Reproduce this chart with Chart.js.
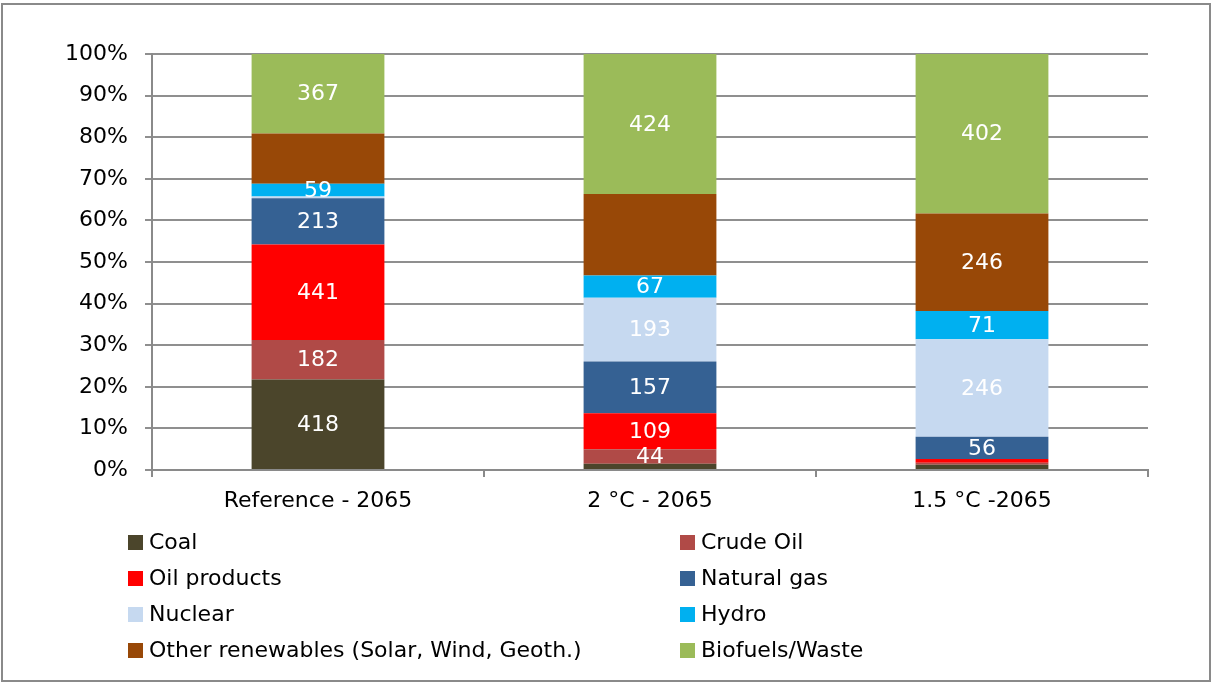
<!DOCTYPE html>
<html>
<head>
<meta charset="utf-8">
<script src="https://cdn.jsdelivr.net/npm/chart.js@4/dist/chart.umd.min.js"></script>
<style>
  html, body { margin: 0; padding: 0; background: #fff; }
  #wrap { position: relative; width: 1212px; height: 684px; }
</style>
</head>
<body>
<div id="wrap"><canvas id="c" width="1212" height="684"></canvas></div>
<script>
const categories = ["Reference - 2065", "2 °C - 2065", "1.5 °C -2065"];
const seriesNames = ["Coal", "Crude Oil", "Oil products", "Natural gas", "Nuclear", "Hydro", "Other renewables (Solar, Wind, Geoth.)", "Biofuels/Waste"];
const coal = [418, 19, 13];
const crudeOil = [182, 44, 5];
const oilProducts = [441, 109, 10];
const naturalGas = [213, 157, 56];
const nuclear = [8, 193, 246];
const hydro = [59, 67, 71];
const otherRenewables = [232, 247, 246];
const biofuels = [367, 424, 402];
// which values carry a printed label in the reference
const coalShown = [true, false, false];
const crudeOilShown = [true, true, false];
const oilProductsShown = [true, true, false];
const naturalGasShown = [true, true, true];
const nuclearShown = [false, true, true];
const hydroShown = [true, true, true];
const otherRenewablesShown = [false, false, true];
const biofuelsShown = [true, true, true];
const yTicks = ["0%", "10%", "20%", "30%", "40%", "50%", "60%", "70%", "80%", "90%", "100%"];

const colors = ["#4b452b", "#b04a47", "#ff0000", "#356193", "#c6d9f0", "#00b0f0", "#984807", "#9bbb59"];
const rawSeries = [coal, crudeOil, oilProducts, naturalGas, nuclear, hydro, otherRenewables, biofuels];
const shownSeries = [coalShown, crudeOilShown, oilProductsShown, naturalGasShown, nuclearShown, hydroShown, otherRenewablesShown, biofuelsShown];

const totals = categories.map((_, i) => rawSeries.reduce((s, a) => s + a[i], 0));
const FONT = "'DejaVu Sans', sans-serif";
const FS = 22;

const datasets = seriesNames.map((name, k) => ({
  label: name,
  raw: rawSeries[k],
  shown: shownSeries[k],
  data: rawSeries[k].map((v, i) => v / totals[i] * 100),
  backgroundColor: colors[k],
  borderWidth: 0,
  categoryPercentage: 1.0,
  barPercentage: 0.4
}));

const labelPlugin = {
  id: "segLabels",
  afterDatasetsDraw(chart) {
    const ctx = chart.ctx;
    ctx.save();
    ctx.font = FS + "px " + FONT;
    ctx.fillStyle = "#ffffff";
    ctx.textAlign = "center";
    ctx.textBaseline = "middle";
    chart.data.datasets.forEach((ds, k) => {
      const meta = chart.getDatasetMeta(k);
      meta.data.forEach((bar, i) => {
        if (!ds.shown[i]) return;
        const y = (bar.y + bar.base) / 2;
        ctx.fillText(String(ds.raw[i]), bar.x, y + 1);
      });
    });
    ctx.restore();
  }
};

const legendPlugin = {
  id: "gridLegend",
  afterDraw(chart) {
    const ctx = chart.ctx;
    ctx.save();
    ctx.font = FS + "px " + FONT;
    ctx.textBaseline = "middle";
    ctx.textAlign = "left";
    const colX = [128, 680];
    const rowY = [542, 578, 614, 650];
    chart.data.datasets.forEach((ds, k) => {
      const x = colX[k % 2];
      const y = rowY[Math.floor(k / 2)];
      ctx.fillStyle = ds.backgroundColor;
      ctx.fillRect(x, y - 7, 15, 15);
      ctx.fillStyle = "#000";
      ctx.fillText(ds.label, x + 21, y + 1);
    });
    // outer frame
    ctx.strokeStyle = "#8a8a8a";
    ctx.lineWidth = 2;
    ctx.strokeRect(2, 4, 1208, 677);
    ctx.restore();
  }
};

new Chart(document.getElementById("c"), {
  type: "bar",
  data: { labels: categories, datasets },
  plugins: [labelPlugin, legendPlugin],
  options: {
    responsive: false,
    animation: false,
    events: [],
    layout: { padding: { top: 54, right: 64, bottom: 169, left: 0 } },
    plugins: { legend: { display: false }, tooltip: { enabled: false } },
    scales: {
      x: {
        stacked: true,
        afterFit(axis) { axis.height = 45; },
        grid: { display: true, drawOnChartArea: false, drawTicks: true, tickLength: 7, color: "#8a8a8a", lineWidth: 2, offset: true },
        border: { display: true, color: "#8a8a8a", width: 2 },
        ticks: { color: "#000", font: { family: FONT, size: FS }, padding: 11 }
      },
      y: {
        stacked: true,
        min: 0,
        max: 100,
        afterFit(axis) { axis.width = 152; },
        afterBuildTicks(axis) { axis.ticks = yTicks.map((t, i) => ({ value: i * 10 })); },
        grid: { color: "#8f8f8f", lineWidth: 2, tickLength: 7, drawTicks: true },
        border: { display: true, color: "#8a8a8a", width: 2 },
        ticks: {
          color: "#000",
          font: { family: FONT, size: FS },
          padding: 17,
          callback: (v) => yTicks[Math.round(v / 10)]
        }
      }
    }
  }
});
</script>
</body>
</html>
